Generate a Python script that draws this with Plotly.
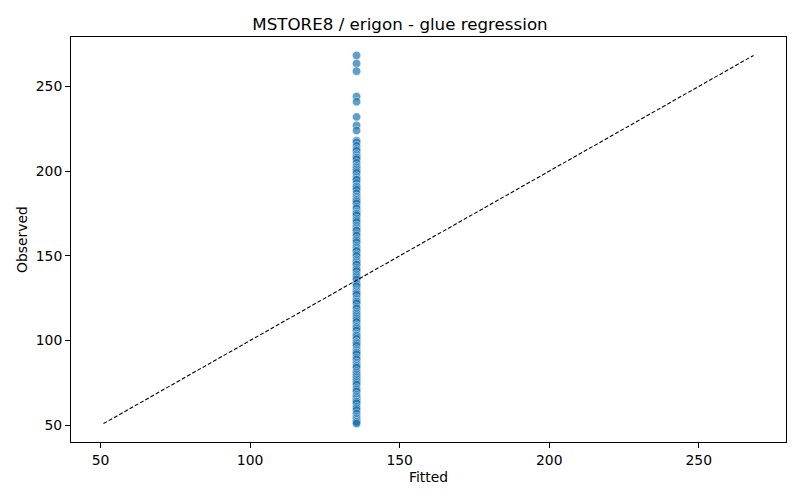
import plotly.graph_objects as go

observed = [268.3, 263.5, 259, 244, 241, 232, 227, 224, 218, 217, 215, 213, 212, 210,
            209, 208, 208, 207, 205, 203, 202, 201, 200, 199, 197, 196, 195, 195, 193,
            191, 191, 190, 189, 187, 185, 184, 183, 183, 182, 181, 179, 178, 176, 175,
            175, 174, 172, 171, 170, 168, 167, 166, 165, 165, 163, 162, 160, 159, 158,
            156, 155, 154, 153, 153, 151, 150, 148, 147, 146, 145, 145, 143, 142, 141,
            139, 138, 137, 136, 134, 133, 132, 130, 129, 128, 128, 127, 125, 124, 123,
            123, 122, 120, 119, 117, 116, 115, 114, 113, 112, 111, 109, 108, 108, 107,
            106, 104, 103, 103, 102, 101, 99, 99, 98, 97, 95, 94, 93, 93, 92, 90, 89,
            87, 86, 85, 85, 84, 82, 81, 80, 79, 78, 77, 76, 75, 74, 72, 71, 70, 68,
            67, 66, 65, 64, 64, 63, 61, 60, 59, 57, 55, 54, 53, 52, 52, 51]
fitted_value = 135.6
fitted = [fitted_value for _ in observed]

# identity line spans the range of all values
lo = min(min(observed), fitted_value)
hi = max(max(observed), fitted_value)
pad = (hi - lo) * 0.05

fig = go.Figure()
fig.add_trace(go.Scatter(x=fitted, y=observed, mode="markers",
                         marker=dict(size=8.5, color="#1f77b4", opacity=0.7,
                                     line=dict(color="white", width=0.6)),
                         showlegend=False))
fig.add_trace(go.Scatter(x=[lo, hi], y=[lo, hi], mode="lines",
                         line=dict(color="black", width=1.1, dash="4px,2px"),
                         showlegend=False))

axis_style = dict(showgrid=False, zeroline=False, showline=True, linecolor="black",
                  linewidth=1, mirror=True, ticks="outside", ticklen=5, tickwidth=1,
                  tickcolor="black", tickfont=dict(size=13.9, color="black"),
                  range=[lo - pad, hi + pad], tickvals=[50, 100, 150, 200, 250],
                  automargin=False)

fig.update_layout(
    width=800, height=500,
    font=dict(family="DejaVu Sans", color="black"),
    title=dict(text="MSTORE8 / erigon - glue regression", x=0.5, xanchor="center",
               y=0.951, yanchor="middle", font=dict(size=16.7)),
    plot_bgcolor="white", paper_bgcolor="white",
    margin=dict(l=71, r=14, t=37, b=58),
    xaxis=dict(title=dict(text="Fitted", font=dict(size=13.9), standoff=5), **axis_style),
    yaxis=dict(title=dict(text="Observed", font=dict(size=13.9), standoff=4), **axis_style),
)

# drop the browser's default page margin so the figure sits at the top-left corner
fig.write_html("out.html", config={"displayModeBar": False},
               post_script="document.body.style.margin='0';")
